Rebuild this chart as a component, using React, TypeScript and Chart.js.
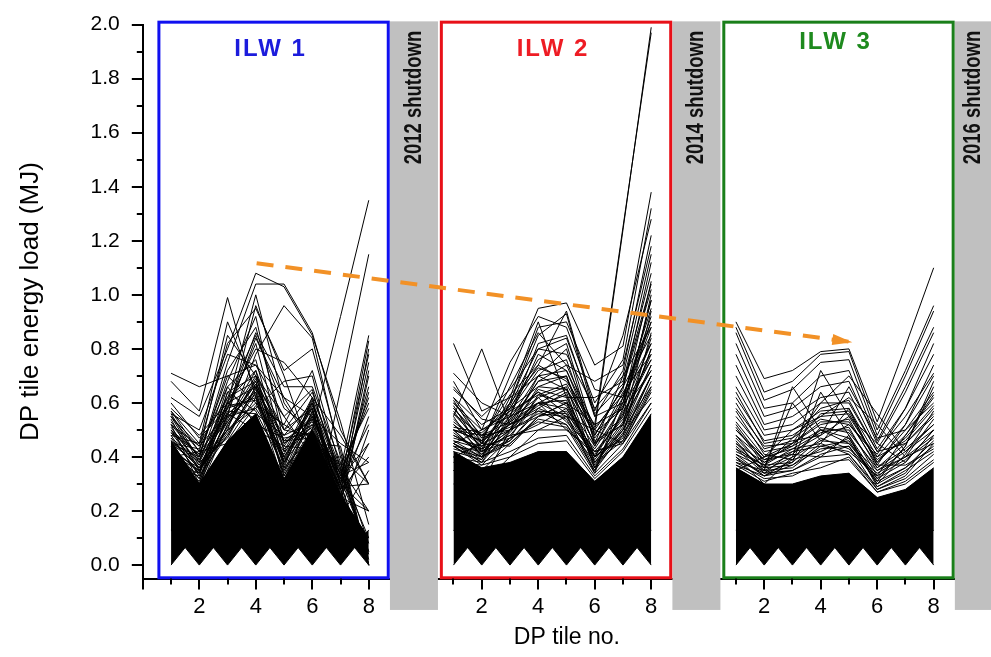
import React, { useEffect, useRef } from 'react';
import { Chart, registerables } from 'chart.js';

Chart.register(...registerables);

// ---------------- data ----------------
const tileNumbers = [1, 2, 3, 4, 5, 6, 7, 8];
const campaignNames = ['ILW 1', 'ILW 2', 'ILW 3'];
const shutdownLabels = ['2012 shutdown', '2014 shutdown', '2016 shutdown'];
const yTickValues = [0, 0.2, 0.4, 0.6, 0.8, 1.0, 1.2, 1.4, 1.6, 1.8, 2.0];
const yMinorTickValues = [0.1, 0.3, 0.5, 0.7, 0.9, 1.1, 1.3, 1.5, 1.7, 1.9];
const xTickTiles = [2, 4, 6, 8];
const xMinorTickTiles = [1, 3, 5, 7];

// dense core of pulses (upper envelope of the solid black mass)
const ilw1DenseTop = [0.46, 0.30, 0.46, 0.56, 0.32, 0.50, 0.26, 0.10];
const ilw2DenseTop = [0.42, 0.36, 0.38, 0.42, 0.42, 0.31, 0.40, 0.56];
const ilw3DenseTop = [0.36, 0.30, 0.30, 0.33, 0.34, 0.25, 0.28, 0.36];
// lowest pulses (alternating zero loads)
const lowPulsesA = [0, 0.13, 0, 0.13, 0, 0.13, 0, 0.13];
const lowPulsesB = [0.13, 0, 0.13, 0, 0.13, 0, 0.13, 0];

// individual pulses above the dense core
const ilw1Pulses = [
  [0.71, 0.66, 0.70, 0.74, 0.62, 0.55, 0.45, 0.38],
  [0.68, 0.57, 0.99, 0.62, 0.40, 0.32, 0.25, 0.20],
  [0.62, 0.55, 0.80, 1.08, 1.03, 0.85, 0.53, 0.15],
  [0.45, 0.40, 0.75, 1.04, 1.04, 0.86, 0.50, 0.30],
  [0.50, 0.35, 0.60, 1.00, 0.60, 0.45, 0.30, 0.20],
  [0.40, 0.42, 0.55, 0.96, 0.70, 0.40, 0.35, 0.05],
  [0.30, 0.35, 0.50, 0.78, 0.96, 0.84, 0.40, 0.30],
  [0.30, 0.25, 0.40, 0.45, 0.35, 0.50, 0.92, 1.35],
  [0.20, 0.30, 0.35, 0.30, 0.20, 0.15, 0.65, 1.15],
  [0.57, 0.45, 0.90, 0.65, 0.48, 0.60, 0.35, 0.85],
  [0.55, 0.42, 0.85, 0.70, 0.55, 0.65, 0.30, 0.83],
  [0.52, 0.40, 0.72, 0.88, 0.50, 0.58, 0.25, 0.80],
  [0.50, 0.38, 0.68, 0.92, 0.45, 0.55, 0.32, 0.78],
  [0.48, 0.45, 0.62, 0.85, 0.58, 0.50, 0.28, 0.75],
  [0.46, 0.36, 0.58, 0.82, 0.42, 0.62, 0.22, 0.70],
  [0.44, 0.34, 0.66, 0.76, 0.38, 0.56, 0.30, 0.66],
  [0.42, 0.32, 0.54, 0.72, 0.45, 0.52, 0.34, 0.60],
  [0.40, 0.30, 0.64, 0.70, 0.36, 0.48, 0.26, 0.55],
  [0.38, 0.28, 0.52, 0.68, 0.40, 0.58, 0.20, 0.50],
  [0.36, 0.33, 0.48, 0.66, 0.46, 0.54, 0.32, 0.45],
  [0.34, 0.29, 0.56, 0.64, 0.33, 0.50, 0.28, 0.40],
  [0.32, 0.27, 0.46, 0.62, 0.30, 0.46, 0.18, 0.35],
  [0.58, 0.48, 0.60, 0.80, 0.75, 0.62, 0.48, 0.30],
  [0.56, 0.50, 0.78, 0.74, 0.55, 0.40, 0.40, 0.00],
  [0.52, 0.44, 0.82, 0.95, 0.72, 0.80, 0.42, 0.00],
  [0.60, 0.47, 0.58, 0.86, 0.66, 0.66, 0.38, 0.00],
  [0.49, 0.41, 0.70, 0.60, 0.52, 0.72, 0.36, 0.02],
  [0.47, 0.39, 0.56, 0.84, 0.62, 0.45, 0.44, 0.00],
  [0.45, 0.37, 0.50, 0.58, 0.68, 0.70, 0.30, 0.00],
  [0.43, 0.35, 0.53, 0.67, 0.50, 0.64, 0.33, 0.62],
  [0.55, 0.38, 0.58, 0.62, 0.40, 0.55, 0.30, 0.00],
  [0.54, 0.35, 0.50, 0.60, 0.38, 0.52, 0.28, 0.00],
  [0.53, 0.40, 0.60, 0.66, 0.44, 0.58, 0.26, 0.00],
  [0.51, 0.37, 0.55, 0.58, 0.42, 0.50, 0.32, 0.05],
  [0.49, 0.36, 0.48, 0.64, 0.35, 0.57, 0.24, 0.00],
  [0.47, 0.34, 0.57, 0.56, 0.48, 0.53, 0.35, 0.10],
  [0.56, 0.39, 0.62, 0.68, 0.37, 0.60, 0.27, 0.00],
  [0.50, 0.41, 0.53, 0.70, 0.50, 0.48, 0.22, 0.00],
  [0.48, 0.33, 0.64, 0.57, 0.36, 0.62, 0.36, 0.20],
  [0.46, 0.38, 0.47, 0.66, 0.43, 0.51, 0.29, 0.30],
  [0.44, 0.32, 0.59, 0.61, 0.39, 0.59, 0.33, 0.38],
  [0.42, 0.36, 0.51, 0.69, 0.46, 0.47, 0.25, 0.45],
  [0.40, 0.31, 0.55, 0.63, 0.34, 0.55, 0.31, 0.52],
  [0.57, 0.42, 0.45, 0.59, 0.52, 0.45, 0.37, 0.58],
  [0.38, 0.34, 0.60, 0.54, 0.41, 0.60, 0.28, 0.64],
  [0.52, 0.30, 0.52, 0.67, 0.33, 0.54, 0.23, 0.72],
  [0.45, 0.43, 0.66, 0.52, 0.47, 0.49, 0.34, 0.04],
  [0.41, 0.35, 0.49, 0.65, 0.38, 0.61, 0.21, 0.00],
  [0.55, 0.44, 0.56, 0.50, 0.44, 0.43, 0.38, 0.08],
  [0.36, 0.29, 0.61, 0.72, 0.31, 0.57, 0.26, 0.00],
];

const ilw2Pulses = [
  [0.82, 0.57, 0.62, 0.70, 0.65, 0.50, 0.45, 0.60],
  [0.55, 0.80, 0.52, 0.60, 0.55, 0.40, 0.50, 0.70],
  [0.71, 0.60, 0.55, 0.60, 0.50, 0.42, 0.45, 0.65],
  [0.40, 0.45, 0.70, 0.95, 0.97, 0.74, 0.81, 1.38],
  [0.45, 0.50, 0.75, 0.92, 0.88, 0.60, 0.76, 1.32],
  [0.50, 0.40, 0.60, 0.85, 0.93, 0.55, 0.72, 1.22],
  [0.35, 0.30, 0.40, 0.50, 0.55, 0.50, 1.24, 1.99],
  [0.30, 0.35, 0.45, 0.55, 0.60, 0.52, 1.25, 1.97],
  [0.40, 0.38, 0.50, 0.70, 0.80, 0.45, 0.70, 1.15],
  [0.45, 0.40, 0.55, 0.78, 0.72, 0.50, 0.65, 1.12],
  [0.35, 0.30, 0.50, 0.66, 0.70, 0.40, 0.60, 1.05],
  [0.40, 0.45, 0.50, 0.60, 0.65, 0.45, 0.55, 1.00],
  [0.50, 0.48, 0.60, 0.88, 0.90, 0.65, 0.62, 0.95],
  [0.60, 0.50, 0.55, 0.82, 0.85, 0.55, 0.60, 0.90],
  [0.65, 0.55, 0.65, 0.80, 0.78, 0.58, 0.70, 0.88],
  [0.62, 0.52, 0.58, 0.76, 0.82, 0.48, 0.66, 0.85],
  [0.58, 0.47, 0.63, 0.74, 0.68, 0.52, 0.58, 0.82],
  [0.56, 0.45, 0.57, 0.72, 0.76, 0.46, 0.52, 0.80],
  [0.54, 0.44, 0.52, 0.68, 0.70, 0.44, 0.64, 0.78],
  [0.52, 0.42, 0.50, 0.65, 0.62, 0.40, 0.56, 0.76],
  [0.50, 0.41, 0.54, 0.62, 0.66, 0.38, 0.50, 0.74],
  [0.48, 0.43, 0.48, 0.60, 0.58, 0.42, 0.54, 0.72],
  [0.46, 0.40, 0.46, 0.58, 0.64, 0.36, 0.48, 0.70],
  [0.60, 0.48, 0.50, 0.55, 0.60, 0.38, 0.46, 0.68],
  [0.58, 0.46, 0.56, 0.64, 0.56, 0.34, 0.62, 0.92],
  [0.66, 0.54, 0.52, 0.57, 0.52, 0.35, 0.58, 0.98],
  [0.44, 0.42, 0.62, 0.90, 0.62, 0.62, 0.68, 1.08],
  [0.50, 0.46, 0.66, 0.86, 0.74, 0.68, 0.74, 1.18],
  [0.42, 0.39, 0.58, 0.74, 0.94, 0.57, 0.85, 1.28],
  [0.38, 0.37, 0.47, 0.63, 0.67, 0.48, 0.66, 1.02],
  [0.48, 0.42, 0.50, 0.56, 0.55, 0.36, 0.50, 0.66],
  [0.52, 0.44, 0.47, 0.52, 0.58, 0.40, 0.47, 0.70],
  [0.55, 0.40, 0.45, 0.54, 0.52, 0.38, 0.52, 0.74],
  [0.50, 0.46, 0.52, 0.58, 0.54, 0.35, 0.49, 0.62],
  [0.57, 0.43, 0.48, 0.50, 0.50, 0.41, 0.55, 0.78],
  [0.45, 0.39, 0.53, 0.60, 0.61, 0.37, 0.51, 0.80],
  [0.53, 0.45, 0.44, 0.55, 0.57, 0.39, 0.53, 0.84],
  [0.49, 0.41, 0.49, 0.62, 0.53, 0.42, 0.46, 0.66],
  [0.62, 0.47, 0.51, 0.59, 0.63, 0.36, 0.57, 0.72],
  [0.47, 0.44, 0.55, 0.64, 0.59, 0.40, 0.48, 0.86],
  [0.59, 0.42, 0.46, 0.57, 0.56, 0.43, 0.59, 0.76],
  [0.51, 0.49, 0.58, 0.66, 0.65, 0.45, 0.52, 0.94],
  [0.44, 0.38, 0.54, 0.70, 0.72, 0.47, 0.60, 0.88],
  [0.68, 0.50, 0.57, 0.63, 0.60, 0.44, 0.62, 0.82],
  [0.46, 0.43, 0.60, 0.73, 0.69, 0.49, 0.58, 0.98],
  [0.56, 0.48, 0.53, 0.68, 0.74, 0.51, 0.63, 0.90],
  [0.43, 0.40, 0.47, 0.53, 0.51, 0.34, 0.45, 0.64],
  [0.61, 0.45, 0.59, 0.80, 0.84, 0.56, 0.67, 1.04],
  [0.44, 0.37, 0.40, 0.45, 0.46, 0.32, 0.42, 0.58],
  [0.45, 0.38, 0.42, 0.47, 0.48, 0.33, 0.43, 0.60],
];

const ilw3Pulses = [
  [0.90, 0.69, 0.72, 0.79, 0.80, 0.53, 0.81, 1.10],
  [0.88, 0.64, 0.68, 0.78, 0.79, 0.50, 0.72, 0.96],
  [0.86, 0.61, 0.65, 0.75, 0.76, 0.48, 0.70, 0.94],
  [0.82, 0.58, 0.60, 0.70, 0.72, 0.46, 0.66, 0.88],
  [0.78, 0.55, 0.58, 0.66, 0.68, 0.45, 0.64, 0.86],
  [0.74, 0.52, 0.55, 0.62, 0.64, 0.43, 0.58, 0.78],
  [0.70, 0.50, 0.52, 0.60, 0.60, 0.42, 0.55, 0.71],
  [0.66, 0.48, 0.50, 0.57, 0.58, 0.40, 0.52, 0.70],
  [0.62, 0.46, 0.48, 0.55, 0.56, 0.38, 0.48, 0.63],
  [0.58, 0.44, 0.45, 0.52, 0.54, 0.36, 0.45, 0.55],
  [0.55, 0.42, 0.44, 0.50, 0.50, 0.35, 0.42, 0.52],
  [0.45, 0.35, 0.66, 0.50, 0.45, 0.35, 0.40, 0.45],
  [0.40, 0.30, 0.40, 0.72, 0.55, 0.45, 0.38, 0.50],
  [0.50, 0.40, 0.45, 0.60, 0.70, 0.56, 0.42, 0.50],
  [0.35, 0.40, 0.50, 0.55, 0.62, 0.52, 0.40, 0.48],
  [0.52, 0.38, 0.42, 0.48, 0.66, 0.47, 0.50, 0.60],
  [0.48, 0.36, 0.60, 0.46, 0.52, 0.40, 0.46, 0.58],
  [0.46, 0.34, 0.38, 0.64, 0.48, 0.32, 0.44, 0.66],
  [0.43, 0.37, 0.43, 0.45, 0.58, 0.37, 0.52, 0.74],
  [0.41, 0.33, 0.39, 0.42, 0.47, 0.30, 0.36, 0.44],
  [0.38, 0.35, 0.36, 0.44, 0.42, 0.33, 0.48, 0.62],
  [0.64, 0.45, 0.47, 0.54, 0.52, 0.41, 0.58, 0.82],
  [0.47, 0.36, 0.37, 0.43, 0.44, 0.31, 0.36, 0.46],
  [0.44, 0.35, 0.40, 0.46, 0.45, 0.32, 0.38, 0.50],
  [0.50, 0.39, 0.41, 0.40, 0.48, 0.29, 0.34, 0.48],
  [0.42, 0.37, 0.38, 0.47, 0.43, 0.34, 0.40, 0.54],
  [0.53, 0.40, 0.43, 0.49, 0.51, 0.33, 0.39, 0.47],
  [0.39, 0.34, 0.42, 0.44, 0.46, 0.30, 0.41, 0.57],
  [0.57, 0.41, 0.39, 0.51, 0.49, 0.36, 0.43, 0.52],
  [0.45, 0.38, 0.45, 0.53, 0.53, 0.37, 0.37, 0.43],
  [0.60, 0.43, 0.46, 0.48, 0.55, 0.39, 0.47, 0.59],
  [0.41, 0.36, 0.41, 0.50, 0.47, 0.31, 0.44, 0.68],
  [0.48, 0.39, 0.44, 0.56, 0.57, 0.38, 0.50, 0.64],
  [0.37, 0.33, 0.37, 0.45, 0.41, 0.29, 0.35, 0.42],
  [0.51, 0.37, 0.47, 0.58, 0.61, 0.42, 0.45, 0.56],
  [0.43, 0.34, 0.35, 0.41, 0.44, 0.28, 0.33, 0.45],
  [0.38, 0.32, 0.33, 0.38, 0.39, 0.27, 0.31, 0.39],
  [0.40, 0.33, 0.35, 0.40, 0.41, 0.28, 0.32, 0.41],
  [0.37, 0.31, 0.34, 0.36, 0.40, 0.27, 0.30, 0.38],
];

// trend arrow (global axis position, MJ)
const trendX = [4.03, 25.12];
const trendY = [1.117, 0.825];

// ---------------- layout / style ----------------
const PANEL_STEP = 10;
const FONT = "'Liberation Sans', Arial, Helvetica, sans-serif";
const panelColors = ['#1010f0', '#e81018', '#1a7f1a'];
const titleColors = ['#1c1cdc', '#ee1c24', '#1e8a1e'];
const ARROW_COLOR = '#f29126';

const campaigns = [
  { pulses: ilw1Pulses, denseTop: ilw1DenseTop },
  { pulses: ilw2Pulses, denseTop: ilw2DenseTop },
  { pulses: ilw3Pulses, denseTop: ilw3DenseTop },
];

function toPoints(vals: number[], offset: number) {
  return vals.map((v, i) => ({ x: tileNumbers[i] + offset, y: v }));
}

function buildDatasets() {
  const ds: any[] = [];
  ds.push({
    label: 'trend',
    data: trendX.map((x, i) => ({ x, y: trendY[i] })),
    borderColor: ARROW_COLOR,
    borderWidth: 4,
    borderDash: [17, 12],
    borderCapStyle: 'butt',
    order: -1,
    fill: false,
  });
  campaigns.forEach((c, p) => {
    const off = p * PANEL_STEP;
    const topIndex = ds.length;
    ds.push({ data: toPoints(c.denseTop, off), borderColor: '#000', borderWidth: 1, fill: false });
    ds.push({ data: toPoints(lowPulsesA, off), borderColor: '#000', borderWidth: 1, fill: topIndex, backgroundColor: '#000' });
    ds.push({ data: toPoints(lowPulsesB, off), borderColor: '#000', borderWidth: 1, fill: topIndex, backgroundColor: '#000' });
    c.pulses.forEach((vals) => {
      ds.push({ data: toPoints(vals, off), borderColor: '#000', borderWidth: 1, fill: false });
    });
  });
  return ds;
}

const decorPlugin = {
  id: 'decor',
  beforeDatasetsDraw(chart: any) {
    const { ctx } = chart;
    const xs = chart.scales.x;
    const ys = chart.scales.y;
    ctx.save();
    // shutdown bars
    shutdownLabels.forEach((label, p) => {
      const off = p * PANEL_STEP;
      const l = xs.getPixelForValue(off + 8.75);
      const r = Math.min(xs.getPixelForValue(off + 10.45), chart.width);
      const t = ys.getPixelForValue(2.012);
      const b = ys.getPixelForValue(-0.166);
      ctx.fillStyle = '#c0c0c0';
      ctx.fillRect(l, t, r - l, b - t);
      ctx.save();
      ctx.translate((l + r) / 2, ys.getPixelForValue(1.73));
      ctx.rotate(-Math.PI / 2);
      ctx.scale(0.77, 1);
      ctx.font = `bold 24px ${FONT}`;
      ctx.textAlign = 'center';
      ctx.textBaseline = 'middle';
      ctx.fillStyle = '#111';
      ctx.fillText(label, 0, 0);
      ctx.restore();
    });
    // panel frames & titles
    campaignNames.forEach((name, p) => {
      const off = p * PANEL_STEP;
      const l = xs.getPixelForValue(off + 0.57);
      const r = xs.getPixelForValue(off + 8.69);
      const t = ys.getPixelForValue(2.009);
      const b = ys.getPixelForValue(-0.047);
      ctx.strokeStyle = panelColors[p];
      ctx.lineWidth = 3;
      ctx.strokeRect(l, t, r - l, b - t);
      ctx.save();
      ctx.font = `bold 24px ${FONT}`;
      (ctx as any).letterSpacing = '2px';
      ctx.textAlign = 'center';
      ctx.textBaseline = 'middle';
      ctx.fillStyle = titleColors[p];
      const ty = p === 2 ? 1.935 : 1.91;
      ctx.fillText(name, (l + r) / 2 - 3, ys.getPixelForValue(ty));
      ctx.restore();
    });
    // minor ticks
    ctx.strokeStyle = '#000';
    ctx.lineWidth = 2;
    const ax = chart.chartArea.left;
    yMinorTickValues.forEach((v) => {
      const y = Math.round(ys.getPixelForValue(v));
      ctx.beginPath();
      ctx.moveTo(ax - 6, y);
      ctx.lineTo(ax, y);
      ctx.stroke();
    });
    const ay = chart.chartArea.bottom;
    campaignNames.forEach((_, p) => {
      xMinorTickTiles.forEach((t) => {
        const x = Math.round(xs.getPixelForValue(t + p * PANEL_STEP));
        ctx.beginPath();
        ctx.moveTo(x, ay);
        ctx.lineTo(x, ay + 6);
        ctx.stroke();
      });
    });
    ctx.restore();
  },
  afterDatasetsDraw(chart: any) {
    const { ctx } = chart;
    const xs = chart.scales.x;
    const ys = chart.scales.y;
    const x0 = xs.getPixelForValue(trendX[0]);
    const y0 = ys.getPixelForValue(trendY[0]);
    const x1 = xs.getPixelForValue(trendX[1]);
    const y1 = ys.getPixelForValue(trendY[1]);
    const a = Math.atan2(y1 - y0, x1 - x0);
    ctx.save();
    ctx.translate(x1, y1);
    ctx.rotate(a);
    ctx.fillStyle = ARROW_COLOR;
    ctx.beginPath();
    ctx.moveTo(0, 0);
    ctx.lineTo(-20, -5.5);
    ctx.lineTo(-20, 5.5);
    ctx.closePath();
    ctx.fill();
    ctx.restore();
  },
};

export default function App() {
  const ref = useRef<HTMLCanvasElement | null>(null);
  useEffect(() => {
    if (!ref.current) return;
    const xMajor = [0];
    campaignNames.forEach((_, p) => xTickTiles.forEach((t) => xMajor.push(t + p * PANEL_STEP)));
    const chart = new Chart(ref.current, {
      type: 'line',
      data: { datasets: buildDatasets() },
      plugins: [decorPlugin],
      options: {
        responsive: false,
        animation: false,
        devicePixelRatio: 1,
        layout: { padding: { top: 21.7, right: 0, left: 0, bottom: 0 } },
        elements: { point: { radius: 0 }, line: { tension: 0 } },
        plugins: { legend: { display: false }, tooltip: { enabled: false }, title: { display: false } },
        scales: {
          x: {
            type: 'linear',
            min: 0,
            max: 30.03,
            afterBuildTicks: (s: any) => { s.ticks = xMajor.map((v) => ({ value: v })); },
            afterFit: (s: any) => { s.height = 78.4; },
            border: { display: true, color: '#000', width: 2 },
            grid: { drawOnChartArea: false, drawTicks: true, tickLength: 11, tickWidth: 2, tickColor: '#000', color: '#000', lineWidth: 2 },
            ticks: {
              color: '#000',
              font: { family: FONT, size: 22 },
              padding: 4,
              maxRotation: 0,
              autoSkip: false,
              callback: (v: any) => {
                const local = Math.round(v) % PANEL_STEP;
                return local === 0 ? '' : String(local);
              },
            },
            title: { display: true, text: 'DP tile no.', color: '#000', font: { family: FONT, size: 23 }, padding: { top: 0, bottom: 6 } },
          },
          y: {
            type: 'linear',
            min: -0.05,
            max: 2.0,
            afterBuildTicks: (s: any) => { s.ticks = yTickValues.map((v) => ({ value: v })); },
            afterFit: (s: any) => { s.width = 142.8; },
            border: { display: true, color: '#000', width: 2 },
            grid: { drawOnChartArea: false, drawTicks: true, tickLength: 11, tickWidth: 2, tickColor: '#000', color: '#000', lineWidth: 2 },
            ticks: {
              color: '#000',
              font: { family: FONT, size: 21 },
              padding: 12,
              callback: (v: any) => Number(v).toFixed(1),
            },
            title: { display: true, text: 'DP tile energy load (MJ)', color: '#000', font: { family: FONT, size: 26 }, padding: { top: 15, bottom: 0 } },
          },
        },
      } as any,
    });
    return () => chart.destroy();
  }, []);
  return (
    <div style={{ position: 'absolute', left: 0, top: 0, width: 991, height: 657 }}>
      <canvas ref={ref} width={991} height={657} style={{ display: 'block' }} />
    </div>
  );
}
